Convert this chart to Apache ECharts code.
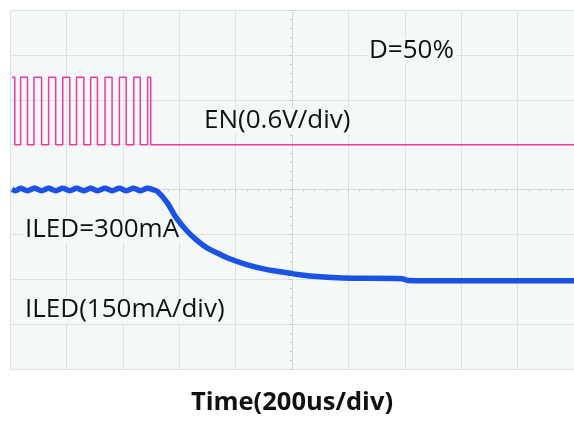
<!DOCTYPE html>
<html>
<head>
<meta charset="utf-8">
<script src="https://cdn.jsdelivr.net/npm/echarts@6/dist/echarts.min.js"></script>
<style>
html,body{margin:0;padding:0;background:#fff;}
#c{width:574px;height:421px;}
</style>
</head>
<body>
<div id="c"></div>
<script>
// Time axis (us), 200us/div
var timeMin = 0, timeMax = 2000, timeStep = 200;

// EN trace (V): step edges, value holds from time onward
var enTime  = [7, 17, 37.5, 62, 85, 112, 137, 162, 187, 212, 236, 262, 286, 310, 337, 362, 388, 412, 439, 462, 488, 499, 2000];
var enValue = [0.9, 0, 0.9, 0, 0.9, 0, 0.9, 0, 0.9, 0, 0.9, 0, 0.9, 0, 0.9, 0, 0.9, 0, 0.9, 0, 0.9, 0, 0];

// ILED trace (mA)
var iledTime  = [7, 20, 37, 62, 87, 112, 137, 162, 187, 212, 236, 262, 286, 310, 337, 362, 388, 412, 439, 462, 488, 505, 522, 556, 590, 626, 662, 700, 737, 772, 842, 912, 982, 1020, 1100, 1180, 1390, 1410, 1600, 1800, 2000];
var iledValue = [300, 296, 304, 296, 304, 296, 304, 296, 304, 296, 304, 296, 304, 296, 304, 296, 304, 296, 304, 296, 304, 300, 294, 258, 205, 163, 131, 104, 87, 71, 48, 32, 22, 16, 8, 4, 2, -4, -5, -5, -5];

// Annotation texts
var labels = ['D=50%', 'EN(0.6V/div)', 'ILED=300mA', 'ILED(150mA/div)'];
var xName = 'Time(200us/div)';

function zip(a, b) { return a.map(function (v, i) { return [v, b[i]]; }); }

var chart = echarts.init(document.getElementById('c'), null, {renderer: 'canvas'});
var gridColor = '#dde2e2';
var plotBg = '#f4f8f8';
var font = 'Open Sans';
var lblFont = '26px "Open Sans"';

function lbl(text, left, top) {
  return {type: 'text', left: left - 2, top: top, z: 1,
    style: {text: text, font: lblFont, fill: '#111', backgroundColor: plotBg, padding: [0, 2, 0, 2]}};
}

chart.setOption({
  animation: false,
  backgroundColor: '#ffffff',
  grid: {left: 10, top: 10, width: 570, height: 372, show: true, backgroundColor: plotBg, borderWidth: 0},
  xAxis: [{
    type: 'value', min: timeMin, max: timeMax, interval: timeStep,
    axisLine: {show: false}, axisTick: {show: false}, axisLabel: {show: false},
    splitLine: {show: true, lineStyle: {color: gridColor, width: 1}},
    name: xName, nameLocation: 'middle', nameGap: 21,
    nameTextStyle: {fontFamily: font, fontSize: 25.5, fontWeight: 'bold', color: '#111'}
  }, {
    type: 'value', min: -5, max: 5, interval: 1,
    axisLine: {show: true, onZero: true, onZeroAxisIndex: 2, lineStyle: {color: '#d6dbdb', width: 1}},
    axisTick: {show: true, inside: true, length: 3, lineStyle: {color: '#c4caca'}},
    minorTick: {show: true, splitNumber: 5, length: 2, lineStyle: {color: '#c4caca'}},
    axisLabel: {show: false}, splitLine: {show: false}
  }],
  yAxis: [{
    type: 'value', min: -300, max: 900, interval: 150,
    axisLine: {show: false}, axisTick: {show: false}, axisLabel: {show: false},
    splitLine: {show: true, lineStyle: {color: gridColor, width: 1}}
  }, {
    type: 'value', min: -3, max: 1.8, interval: 0.6,
    axisLine: {show: false}, axisTick: {show: false}, axisLabel: {show: false},
    splitLine: {show: false}
  }, {
    type: 'value', min: -4, max: 4, interval: 1,
    axisLine: {show: true, onZero: true, onZeroAxisIndex: 1, lineStyle: {color: '#d6dbdb', width: 1}},
    axisTick: {show: true, inside: true, length: 3, lineStyle: {color: '#c4caca'}},
    minorTick: {show: true, splitNumber: 5, length: 2, lineStyle: {color: '#c4caca'}},
    axisLabel: {show: false}, splitLine: {show: false}
  }],
  series: [{
    name: 'EN', type: 'line', xAxisIndex: 0, yAxisIndex: 1, z: 3,
    step: 'end', showSymbol: false, symbol: 'none',
    data: zip(enTime, enValue),
    lineStyle: {color: '#ec3a9f', width: 1.5}
  }, {
    name: 'ILED', type: 'line', xAxisIndex: 0, yAxisIndex: 0, z: 3,
    smooth: 0.3, showSymbol: false, symbol: 'none',
    data: zip(iledTime, iledValue),
    lineStyle: {color: '#1a52e4', width: 5.5}
  }],
  graphic: [
    lbl(labels[0], 369, 38),
    lbl(labels[1], 204, 108),
    lbl(labels[2], 25, 217),
    lbl(labels[3], 25, 297)
  ]
});
</script>
</body>
</html>
